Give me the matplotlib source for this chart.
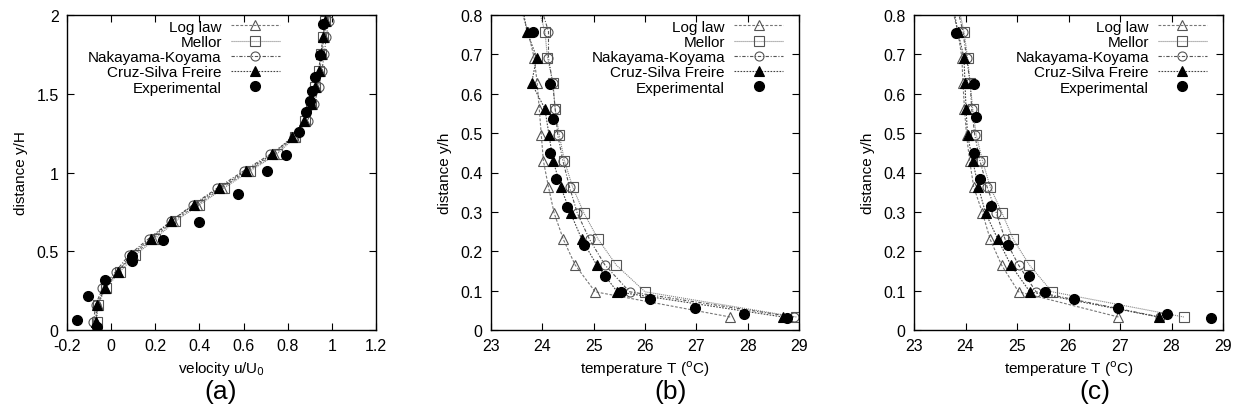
import matplotlib
matplotlib.use("Agg")
import matplotlib.pyplot as plt
from matplotlib.ticker import FuncFormatter

plt.rcParams['font.family'] = ['Liberation Sans', 'DejaVu Sans']

# ---------------- Panel (a): velocity profiles ----------------
a_y_model = [0.05, 0.16, 0.265, 0.37, 0.475, 0.58, 0.69, 0.795, 0.90, 1.01,
             1.115, 1.225, 1.33, 1.435, 1.54, 1.645, 1.75, 1.86, 1.965, 2.07]
a_loglaw = [-0.07, -0.06, -0.03, 0.03, 0.10, 0.19, 0.28, 0.39, 0.50, 0.62,
            0.74, 0.83, 0.88, 0.91, 0.93, 0.945, 0.955, 0.965, 0.975, 0.985]
a_mellor = [-0.065, -0.06, -0.025, 0.04, 0.11, 0.20, 0.29, 0.40, 0.51, 0.63,
            0.75, 0.835, 0.88, 0.905, 0.925, 0.94, 0.95, 0.96, 0.97, 0.98]
a_nakayama = [-0.08, -0.07, -0.04, 0.02, 0.08, 0.17, 0.27, 0.37, 0.48, 0.60,
              0.72, 0.83, 0.89, 0.92, 0.94, 0.955, 0.965, 0.975, 0.985, 0.995]
a_cruz = [-0.07, -0.065, -0.03, 0.03, 0.09, 0.18, 0.27, 0.375, 0.49, 0.61,
          0.73, 0.82, 0.875, 0.905, 0.925, 0.94, 0.95, 0.96, 0.97, 0.98]
a_exp_u = [-0.154, -0.065, -0.103, -0.027, 0.094, 0.094, 0.237, 0.40, 0.574,
           0.705, 0.79, 0.853, 0.884, 0.90, 0.909, 0.924, 0.947, 0.962]
a_exp_y = [0.063, 0.02, 0.214, 0.32, 0.44, 0.47, 0.571, 0.684, 0.865,
           1.007, 1.113, 1.26, 1.382, 1.456, 1.52, 1.604, 1.746, 1.943]
a_xticks = [-0.2, 0, 0.2, 0.4, 0.6, 0.8, 1, 1.2]
a_yticks = [0, 0.5, 1, 1.5, 2]

# ---------------- Panel (b): temperature profiles ----------------
t_y_model = [0.033, 0.097, 0.165, 0.23, 0.297, 0.363, 0.43, 0.495, 0.562,
             0.627, 0.692, 0.758, 0.83]
b_loglaw = [27.66, 25.03, 24.64, 24.41, 24.23, 24.12, 24.02, 23.98, 23.94,
            23.90, 23.84, 23.72, 23.55]
b_mellor = [28.95, 26.00, 25.44, 25.09, 24.81, 24.59, 24.43, 24.33, 24.25,
            24.21, 24.10, 24.05, 23.90]
b_nakayama = [28.90, 25.70, 25.22, 24.92, 24.68, 24.53, 24.40, 24.30, 24.25,
              24.20, 24.12, 24.12, 23.95]
b_cruz = [28.69, 25.46, 25.06, 24.77, 24.55, 24.36, 24.21, 24.13, 24.05,
          23.79, 23.89, 23.70, 23.60]
b_exp_T = [28.76, 27.92, 26.98, 26.10, 25.53, 25.22, 24.81, 24.49, 24.27,
           24.15, 24.20, 24.15, 23.82]
b_exp_y = [0.030, 0.041, 0.055, 0.080, 0.097, 0.136, 0.216, 0.313, 0.383,
           0.449, 0.537, 0.626, 0.757]

# ---------------- Panel (c): temperature profiles ----------------
c_loglaw = [26.97, 25.03, 24.70, 24.48, 24.33, 24.16, 24.08, 24.02, 23.98,
            23.95, 23.93, 23.85, 23.72]
c_mellor = [28.24, 25.68, 25.24, 24.93, 24.71, 24.48, 24.33, 24.21, 24.14,
            24.09, 24.04, 23.97, 23.85]
c_nakayama = [27.77, 25.37, 25.03, 24.77, 24.60, 24.42, 24.28, 24.18, 24.12,
              24.09, 24.02, 23.95, 23.82]
c_cruz = [27.75, 25.25, 24.88, 24.63, 24.39, 24.25, 24.14, 24.04, 24.01,
          23.99, 23.97, 23.85, 23.75]
c_exp_T = [28.76, 27.91, 26.97, 26.10, 25.54, 25.24, 24.83, 24.49, 24.28,
           24.16, 24.21, 24.17, 23.82]
c_exp_y = [0.030, 0.041, 0.055, 0.080, 0.097, 0.136, 0.216, 0.314, 0.383,
           0.449, 0.540, 0.624, 0.755]
t_xticks = [23, 24, 25, 26, 27, 28, 29]
t_yticks = [0, 0.1, 0.2, 0.3, 0.4, 0.5, 0.6, 0.7, 0.8]

labels = ['Log law', 'Mellor', 'Nakayama-Koyama', 'Cruz-Silva Freire', 'Experimental']

styles = [
    dict(marker='^', mfc='none', mec='#555555', color='#777777', dashes=(2.5, 1.5)),
    dict(marker='s', mfc='none', mec='#555555', color='#888888', dashes=(1, 0.8)),
    dict(marker='o', mfc='none', mec='#555555', color='#555555', dashes=(3, 1.5, 1, 1.5)),
    dict(marker='^', mfc='black', mec='black', color='#444444', dashes=(1.5, 1.2)),
]

fig = plt.figure(figsize=(12.39, 4.14), dpi=100)
axes_rects = [
    [67 / 1239, 83 / 414, 309 / 1239, 315 / 414],
    [491 / 1239, 83 / 414, 308 / 1239, 315 / 414],
    [914 / 1239, 83 / 414, 309 / 1239, 315 / 414],
]
legend_x = [0.689, 0.948, 0.948]

panels = [
    (a_y_model, [a_loglaw, a_mellor, a_nakayama, a_cruz], a_exp_u, a_exp_y,
     a_xticks, a_yticks, (-0.2, 1.2), (0, 2), 'velocity u/U$_0$', 'distance y/H', '(a)', 221),
    (t_y_model, [b_loglaw, b_mellor, b_nakayama, b_cruz], b_exp_T, b_exp_y,
     t_xticks, t_yticks, (23, 29), (0, 0.8), 'temperature T ($^{\\rm o}$C)', 'distance y/h', '(b)', 671),
    (t_y_model, [c_loglaw, c_mellor, c_nakayama, c_cruz], c_exp_T, c_exp_y,
     t_xticks, t_yticks, (23, 29), (0, 0.8), 'temperature T ($^{\\rm o}$C)', 'distance y/h', '(c)', 1095),
]

fmt = FuncFormatter(lambda v, p: f'{v:g}')

for i, (ym, models, ex, ey, xt, yt, xl, yl, xlab, ylab, tag, tagx) in enumerate(panels):
    ax = fig.add_axes(axes_rects[i])
    for m, st, lab in zip(models, styles, labels):
        ax.plot(m, ym, marker=st['marker'], mfc=st['mfc'], mec=st['mec'],
                color=st['color'], dashes=st['dashes'], lw=0.8, ms=6.5,
                mew=0.8, label=lab)
    ax.plot(ex, ey, 'o', color='black', ms=7, ls='none', label=labels[4])
    ax.set_xlim(*xl)
    ax.set_ylim(*yl)
    ax.set_xticks(xt)
    ax.set_yticks(yt)
    ax.xaxis.set_major_formatter(fmt)
    ax.yaxis.set_major_formatter(fmt)
    ax.tick_params(direction='in', top=True, right=True, length=5, width=0.8,
                   labelsize=11.5, pad=6)
    for s in ax.spines.values():
        s.set_linewidth(1.0)
    ax.set_xlabel(xlab, fontsize=11, labelpad=4)
    ax.set_ylabel(ylab, fontsize=11, labelpad=6)
    leg = ax.legend(loc='upper right', bbox_to_anchor=(legend_x[i], 0.985),
                    frameon=False, markerfirst=False, fontsize=11,
                    handlelength=3.2, handletextpad=0.6, labelspacing=0.08,
                    borderpad=0, borderaxespad=0)
    for t in leg.get_texts():
        t.set_ha('right')
    fig.text(tagx / 1239, 1 - 392 / 414, tag, fontsize=19, ha='center', va='center')

fig.savefig('out.png', dpi=100)
